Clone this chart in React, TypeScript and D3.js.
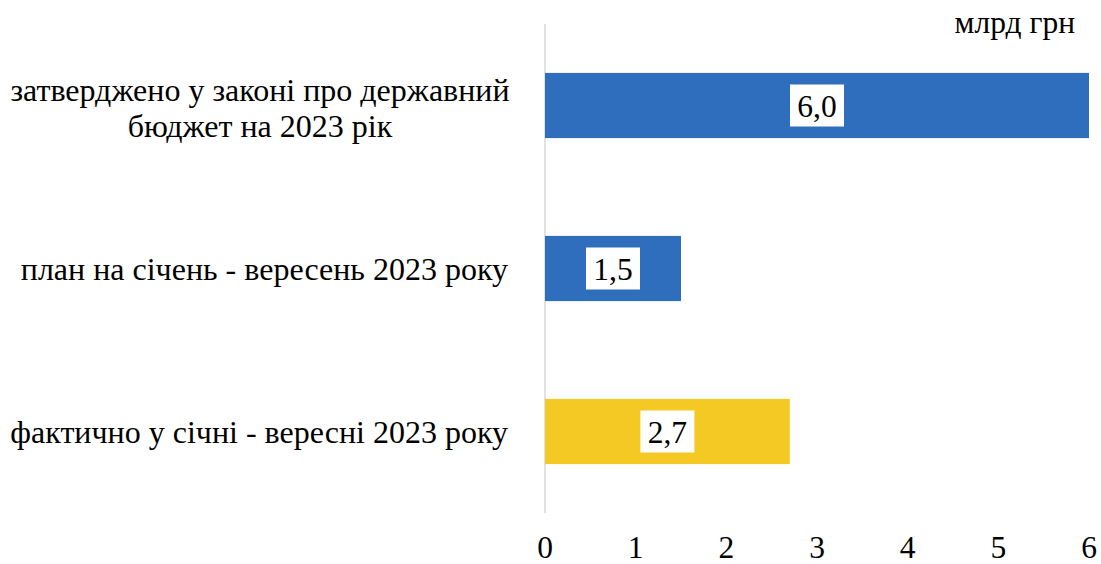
import React from "react";
import * as d3 from "d3";

const categories: string[][] = [
  ["затверджено у законі про державний", "бюджет на 2023 рік"],
  ["план на січень - вересень 2023 року"],
  ["фактично у січні - вересні 2023 року"],
];
const values: number[] = [6.0, 1.5, 2.7];
const barColors: string[] = ["#2E6EBC", "#2E6EBC", "#F5C923"];
const xTicks: number[] = [0, 1, 2, 3, 4, 5, 6];
const unitLabel = "млрд грн";

const W = 1101;
const H = 564;
const ts = (fs = 31.5) => ({ fontFamily: "'Liberation Serif'", fontSize: fs });

export default function App() {
  const x = d3.scaleLinear().domain([0, 6]).range([545, 1089]);
  const y = d3
    .scaleBand<number>()
    .domain(values.map((_, i) => i))
    .range([24, 513])
    .paddingInner(0.6)
    .paddingOuter(0.3);
  const fmt = (v: number) => v.toFixed(1).replace(".", ",");

  return (
    <svg
      width={W}
      height={H}
      style={{ position: "absolute", left: 0, top: 0, background: "#fff" }}
    >
      <line x1={x(0)} x2={x(0)} y1={24} y2={513} stroke="#D9D9D9" strokeWidth={1.5} />
      {values.map((v, i) => {
        const y0 = y(i)!;
        const bh = y.bandwidth();
        const cx = (x(0) + x(v)) / 2;
        const cy = y0 + bh / 2;
        const label = fmt(v);
        const bw = 54;
        return (
          <g key={i}>
            <rect x={x(0)} y={y0} width={x(v) - x(0)} height={bh} fill={barColors[i]} />
            <rect x={cx - bw / 2} y={cy - 21} width={bw} height={42} fill="#fff" />
            <text x={cx} y={cy + 11} textAnchor="middle" style={ts()} fill="#000">
              {label}
            </text>
          </g>
        );
      })}
      {categories.map((lines, i) => {
        const cy = y(i)! + y.bandwidth() / 2;
        if (lines.length === 1) {
          return (
            <text key={i} x={508} y={cy + 11} textAnchor="end" style={ts(32)} fill="#000">
              {lines[0]}
            </text>
          );
        }
        return (
          <text key={i} x={260} textAnchor="middle" style={ts(32)} fill="#000">
            {lines.map((l, j) => (
              <tspan key={j} x={260} y={cy - 5 + j * 36}>
                {l}
              </tspan>
            ))}
          </text>
        );
      })}
      {xTicks.map((t) => (
        <text key={t} x={x(t)} y={558} textAnchor="middle" style={ts()} fill="#000">
          {t}
        </text>
      ))}
      <text x={1075} y={33} textAnchor="end" style={ts()} fill="#000">
        {unitLabel}
      </text>
    </svg>
  );
}
